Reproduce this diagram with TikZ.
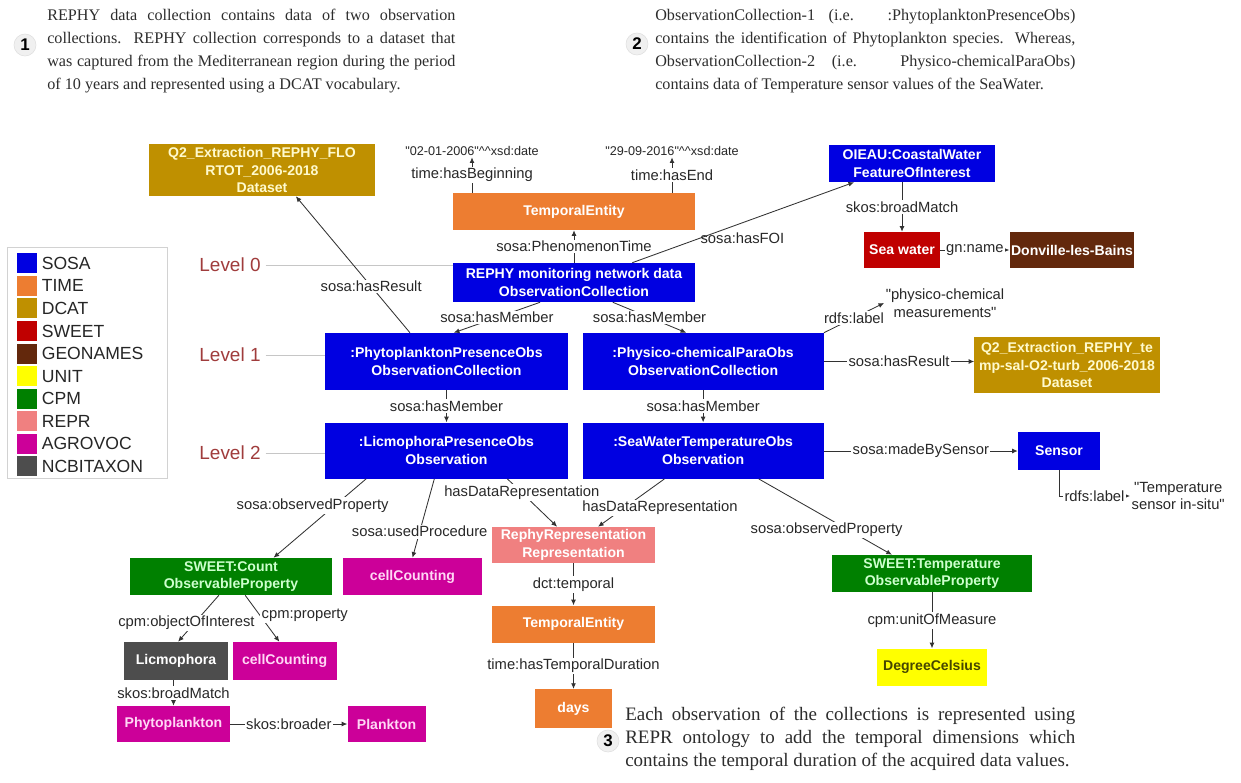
\documentclass[tikz,border=0pt]{standalone}
\usepackage{fontspec}
\setmainfont{Liberation Sans}
\newfontfamily\paperfont{Liberation Serif}
\usetikzlibrary{positioning,calc,arrows.meta}

% ontology colours
\definecolor{sosablue}{RGB}{0,0,225}
\definecolor{timeorange}{RGB}{237,125,49}
\definecolor{dcatgold}{RGB}{191,144,0}
\definecolor{sweetred}{RGB}{192,0,0}
\definecolor{geobrown}{RGB}{99,40,12}
\definecolor{unityellow}{RGB}{255,255,0}
\definecolor{cpmgreen}{RGB}{0,128,0}
\definecolor{reprpink}{RGB}{240,128,128}
\definecolor{agromagenta}{RGB}{204,0,153}
\definecolor{ncbigray}{RGB}{77,77,77}
% text colours
\definecolor{dcattext}{RGB}{255,250,205}
\definecolor{cpmtext}{RGB}{205,255,205}
\definecolor{agrotext}{RGB}{255,215,245}
\definecolor{unittext}{RGB}{70,70,0}
\definecolor{lblgray}{RGB}{40,40,40}
\definecolor{linkgray}{RGB}{50,50,50}
\definecolor{levelred}{RGB}{160,60,60}
\definecolor{paragray}{RGB}{45,45,45}

\newcommand{\boxfont}{\fontsize{10}{12.5}\selectfont\bfseries}
\newcommand{\lblfont}{\fontsize{10.5}{12.5}\selectfont}
\newcommand{\datefont}{\fontsize{9}{11}\selectfont}
\newcommand{\levelfont}{\fontsize{13.5}{16}\selectfont}
\newcommand{\keyfont}{\fontsize{12.5}{15}\selectfont}
\newcommand{\numfont}{\fontsize{12}{14}\selectfont\bfseries}
\newcommand{\parafont}{\paperfont\fontsize{11.5}{16.3}\selectfont}
\newcommand{\bigparafont}{\paperfont\fontsize{13.5}{16.4}\selectfont}
\newcommand{\q}{\textquotedbl}

\begin{document}
\begin{tikzpicture}[
  x=0.025cm, y=-0.025cm,
  font=\lblfont,
  box/.style={align=center, inner sep=1pt, font=\boxfont},
  sosabox/.style={box, fill=sosablue, text=white},
  timebox/.style={box, fill=timeorange, text=white},
  dcatbox/.style={box, fill=dcatgold, text=dcattext},
  sweetbox/.style={box, fill=sweetred, text=white},
  geobox/.style={box, fill=geobrown, text=white},
  unitbox/.style={box, fill=unityellow, text=unittext},
  cpmbox/.style={box, fill=cpmgreen, text=cpmtext},
  reprbox/.style={box, fill=reprpink, text=white},
  agrobox/.style={box, fill=agromagenta, text=agrotext},
  ncbibox/.style={box, fill=ncbigray, text=white},
  lit/.style={font=\lblfont, text=lblgray, align=center, inner sep=1pt},
  datelit/.style={lit, font=\datefont},
  lbl/.style={font=\lblfont, text=lblgray, fill=white, inner sep=1pt},
  link/.style={draw=linkgray, line width=0.6pt, -{Latex[length=4pt,width=3.5pt]}},
  levelline/.style={draw=gray!45, line width=0.5pt},
  level/.style={font=\levelfont, text=levelred},
  key/.style={minimum size=0.5cm, inner sep=0pt},
  keytext/.style={font=\keyfont, text=black!85, inner sep=0pt},
  para/.style={text=paragray, align=justify, inner sep=0pt, anchor=north west},
  num/.style={circle, fill=gray!12, draw=gray!25, minimum size=0.55cm, inner sep=0pt, font=\numfont}
]
\useasboundingbox (0,0) rectangle (1241,782);
\fill[white] (0,0) rectangle (1241,782);

% --- Notes 1 and 2 ---
\node[num] (n1) at (25,45) {1};
\node[para, font=\parafont, text width=10.2cm] (p1) at (47,9)
  {REPHY data collection contains data of two observation\linebreak
   collections. REPHY collection corresponds to a dataset that\linebreak
   was captured from the Mediterranean region during the period\linebreak
   of 10 years and represented using a DCAT vocabulary.};
\node[num] (n2) at (637,44) {2};
\node[para, font=\parafont, text width=10.5cm] (p2) at (655,9)
  {ObservationCollection-1 (i.e. :PhytoplanktonPresenceObs)\linebreak
   contains the identification of Phytoplankton species. Whereas,\linebreak
   ObservationCollection-2 (i.e. Physico-chemicalParaObs)\linebreak
   contains data of Temperature sensor values of the SeaWater.};

% --- Legend ---
\node[draw=gray!35, minimum width=4cm, minimum height=5.775cm, anchor=north west] (legend) at (7,247) {};
\node[key, fill=sosablue, anchor=north west] (k1) at (17,253) {};
\node[key, fill=timeorange, below=0.05cm of k1] (k2) {};
\node[key, fill=dcatgold, below=0.05cm of k2] (k3) {};
\node[key, fill=sweetred, below=0.05cm of k3] (k4) {};
\node[key, fill=geobrown, below=0.05cm of k4] (k5) {};
\node[key, fill=unityellow, below=0.05cm of k5] (k6) {};
\node[key, fill=cpmgreen, below=0.05cm of k6] (k7) {};
\node[key, fill=reprpink, below=0.05cm of k7] (k8) {};
\node[key, fill=agromagenta, below=0.05cm of k8] (k9) {};
\node[key, fill=ncbigray, below=0.05cm of k9] (k10) {};
\node[keytext, right=0.1cm of k1] (t1) {SOSA};
\node[keytext, right=0.1cm of k2] (t2) {TIME};
\node[keytext, right=0.1cm of k3] (t3) {DCAT};
\node[keytext, right=0.1cm of k4] (t4) {SWEET};
\node[keytext, right=0.1cm of k5] (t5) {GEONAMES};
\node[keytext, right=0.1cm of k6] (t6) {UNIT};
\node[keytext, right=0.1cm of k7] (t7) {CPM};
\node[keytext, right=0.1cm of k8] (t8) {REPR};
\node[keytext, right=0.1cm of k9] (t9) {AGROVOC};
\node[keytext, right=0.1cm of k10] (t10) {NCBITAXON};

% --- Level 0: the REPHY collection ---
\node[dcatbox, minimum width=5.625cm, minimum height=1.3cm] (q2a) at (262,170)
  {Q2\_Extraction\_REPHY\_FLO\\RTOT\_2006-2018\\Dataset};
\node[datelit] (d1) at (472,151) {\q02-01-2006\q\textasciicircum\textasciicircum xsd:date};
\node[datelit] (d2) at (672,151) {\q29-09-2016\q\textasciicircum\textasciicircum xsd:date};
\node[timebox, minimum width=6.05cm, minimum height=0.925cm] (te) at (574,211.5) {TemporalEntity};
\node[sosabox, minimum width=6.05cm, minimum height=0.975cm] (rephy) at (574,282.5)
  {REPHY monitoring network data\\ObservationCollection};
\node[sosabox, minimum width=4.125cm, minimum height=0.925cm] (foi) at (912,163.5)
  {OIEAU:CoastalWater\\FeatureOfInterest};
\node[sweetbox, minimum width=1.9cm, minimum height=0.9cm] (sea) at (902,250) {Sea water};
\node[geobox, minimum width=3.05cm, minimum height=0.9cm, right=1.725cm of sea] (donv) {Donville-les-Bains};

% --- Level 1: the two collections ---
\node[sosabox, minimum width=6.075cm, minimum height=1.425cm] (phyto) at (446.5,361.5)
  {:PhytoplanktonPresenceObs\\ObservationCollection};
\node[sosabox, minimum width=6.025cm, minimum height=1.425cm, right=0.35cm of phyto] (physico)
  {:Physico-chemicalParaObs\\ObservationCollection};
\node[lit] (pcm) at (945,303) {\q physico-chemical\\measurements\q};
\node[dcatbox, minimum width=4.625cm, minimum height=1.4cm] (q2b) at (1067,365)
  {Q2\_Extraction\_REPHY\_te\\mp-sal-O2-turb\_2006-2018\\Dataset};

% --- Level 2: one observation of each ---
\node[sosabox, minimum width=6.075cm, minimum height=1.4cm, below=0.8cm of phyto] (licmo)
  {:LicmophoraPresenceObs\\Observation};
\node[sosabox, minimum width=6.025cm, minimum height=1.4cm, below=0.8cm of physico] (seaobs)
  {:SeaWaterTemperatureObs\\Observation};
\node[sosabox, minimum width=2.05cm, minimum height=0.95cm] (sensor) at (1059,451) {Sensor};
\node[lit, anchor=west] (tsensor) at (1130,496) {\q Temperature\\sensor in-situ\q};

% levels
\node[level] (lev0) at (230,265) {Level 0};
\node[level] (lev1) at (230,355) {Level 1};
\node[level] (lev2) at (230,453) {Level 2};
\draw[levelline] (lev0.east) -- (lev0.east -| rephy.west);
\draw[levelline] (lev1.east) -- (lev1.east -| phyto.west);
\draw[levelline] (lev2.east) -- (lev2.east -| licmo.west);

% --- Below level 2: properties and representation ---
\node[cpmbox, minimum width=5.05cm, minimum height=0.925cm] (count) at (231,576.5)
  {SWEET:Count\\ObservableProperty};
\node[agrobox, minimum width=3.475cm, minimum height=0.925cm] (cell1) at (412.5,576.5) {cellCounting};
\node[reprbox, minimum width=4.075cm, minimum height=0.9cm] (rep) at (573.5,545)
  {RephyRepresentation\\Representation};
\node[timebox, minimum width=4.075cm, minimum height=0.925cm, below=1.05cm of rep] (te2) {TemporalEntity};
\node[timebox, minimum width=1.925cm, minimum height=0.975cm, below=1.15cm of te2] (days) {days};
\node[cpmbox, minimum width=5cm, minimum height=0.925cm] (temp) at (932,573.5)
  {SWEET:Temperature\\ObservableProperty};
\node[unitbox, minimum width=2.75cm, minimum height=0.925cm, below=1.4cm of temp] (degc) {DegreeCelsius};
\node[ncbibox, minimum width=2.6cm, minimum height=0.95cm] (licmo2) at (176,661) {Licmophora};
\node[agrobox, minimum width=2.6cm, minimum height=0.95cm, right=0.1cm of licmo2] (cell2) {cellCounting};
\node[agrobox, minimum width=2.825cm, minimum height=0.9cm] (phytop) at (173.5,724) {Phytoplankton};
\node[agrobox, minimum width=1.95cm, minimum height=0.9cm, right=2.925cm of phytop] (plank) {Plankton};

% --- Note 3 ---
\node[num] (n3) at (608,741) {3};
\node[para, font=\bigparafont, text width=11.25cm] (p3) at (625,707)
  {Each observation of the collections is represented using\linebreak
   REPR ontology to add the temporal dimensions which\linebreak
   contains the temporal duration of the acquired data values.};

% --- Connectors ---
\draw[link] (te.north -| d1) -- node[lbl] {time:hasBeginning} (d1.south);
\draw[link] (te.north -| d2) -- node[lbl] {time:hasEnd} (d2.south);
\draw[link] (rephy) -- node[lbl] {sosa:PhenomenonTime} (te);
\draw[link] ($(rephy.north west)!0.74!(rephy.north east)$) -- node[lbl, fill=none, pos=0.3, anchor=west] {sosa:hasFOI} ($(foi.south west)!0.15!(foi.south east)$);
\draw[link] (foi.south -| sea.north) -- node[lbl] {skos:broadMatch} (sea.north);
\draw[link] (sea) -- node[lbl] {gn:name} (donv);

\draw[link] ($(rephy.south west)!0.36!(rephy.south east)$) -- node[lbl] {sosa:hasMember} ($(phyto.north west)!0.53!(phyto.north east)$);
\draw[link] ($(rephy.south west)!0.66!(rephy.south east)$) -- node[lbl] {sosa:hasMember} ($(physico.north west)!0.43!(physico.north east)$);
\draw[link] ($(phyto.north west)!0.35!(phyto.north east)$) -- node[lbl, pos=0.34] {sosa:hasResult} ($(q2a.south west)!0.65!(q2a.south east)$);
\draw[link] (physico.north east) -- node[lbl] {rdfs:label} (pcm.west);
\draw[link] (physico.east) -- node[lbl] {sosa:hasResult} (physico.east -| q2b.west);

\draw[link] (phyto) -- node[lbl] {sosa:hasMember} (licmo);
\draw[link] (physico) -- node[lbl] {sosa:hasMember} (seaobs);
\draw[link] (seaobs.east |- sensor) -- node[lbl] {sosa:madeBySensor} (sensor.west);
\draw[link] (sensor.south) |- node[lbl, pos=0.75] {rdfs:label} (tsensor.west);

\draw[link] ($(licmo.south west)!0.17!(licmo.south east)$) -- node[lbl, pos=0.34, xshift=-0.55cm] {sosa:observedProperty} ($(count.north west)!0.71!(count.north east)$);
\draw[link] ($(licmo.south west)!0.45!(licmo.south east)$) -- node[lbl, pos=0.67] {sosa:usedProcedure} (cell1.north);
\draw[link] ($(licmo.south west)!0.75!(licmo.south east)$) -- node[lbl, pos=0.29] {hasDataRepresentation} ($(rep.north west)!0.4!(rep.north east)$);
\draw[link] ($(seaobs.south west)!0.34!(seaobs.south east)$) -- node[lbl, pos=0.61, xshift=0.9cm] {hasDataRepresentation} ($(rep.north west)!0.65!(rep.north east)$);
\draw[link] ($(seaobs.south west)!0.73!(seaobs.south east)$) -- node[lbl, pos=0.675, xshift=-0.55cm] {sosa:observedProperty} ($(temp.north west)!0.3!(temp.north east)$);
\draw[link] (rep) -- node[lbl] {dct:temporal} (te2);
\draw[link] (te2) -- node[lbl] {time:hasTemporalDuration} (days);
\draw[link] (temp) -- node[lbl] {cpm:unitOfMeasure} (degc);
\draw[link] ($(count.south west)!0.44!(count.south east)$) -- node[lbl, pos=0.6, xshift=-0.2cm] {cpm:objectOfInterest} ($(licmo2.north west)!0.52!(licmo2.north east)$);
\draw[link] ($(count.south west)!0.57!(count.south east)$) -- node[lbl, pos=0.43, anchor=west] {cpm:property} ($(cell2.north west)!0.45!(cell2.north east)$);
\draw[link] (licmo2.south -| phytop.north) -- node[lbl] {skos:broadMatch} (phytop.north);
\draw[link] (phytop) -- node[lbl] {skos:broader} (plank);

\end{tikzpicture}
\end{document}
